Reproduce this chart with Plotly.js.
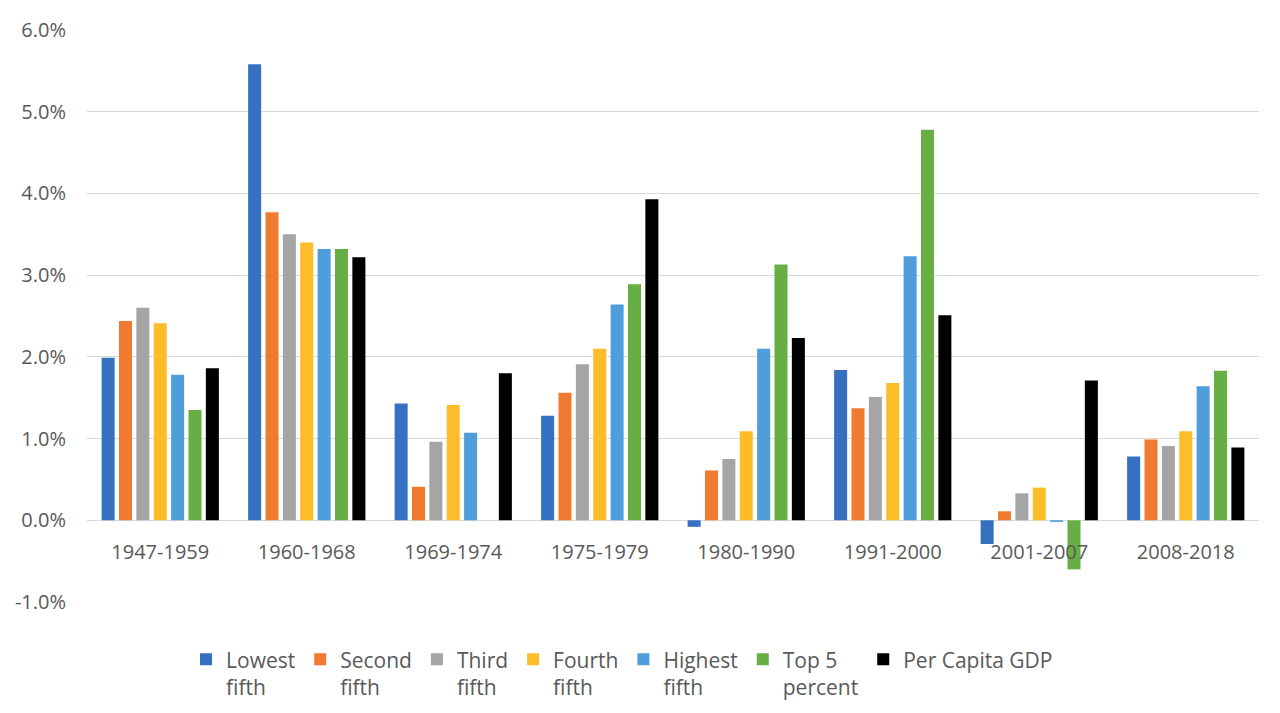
<!DOCTYPE html>
<html>
<head>
<meta charset="utf-8">
<script src="https://cdn.plot.ly/plotly-3.0.1.min.js"></script>
<style>html,body{margin:0;padding:0;background:#fff;}#chart{width:1280px;height:713px;}</style>
</head>
<body>
<div id="chart"></div>
<script>
var periods = ["1947-1959","1960-1968","1969-1974","1975-1979","1980-1990","1991-2000","2001-2007","2008-2018"];
var seriesNames = ["Lowest<br>fifth","Second<br>fifth","Third<br>fifth","Fourth<br>fifth","Highest<br>fifth","Top 5<br>percent","Per Capita GDP"];
var lowestFifth  = [1.99, 5.58, 1.43, 1.28, -0.08, 1.84, -0.29, 0.78];
var secondFifth  = [2.44, 3.77, 0.41, 1.56, 0.61, 1.37, 0.11, 0.99];
var thirdFifth   = [2.60, 3.50, 0.96, 1.91, 0.75, 1.51, 0.33, 0.91];
var fourthFifth  = [2.41, 3.40, 1.41, 2.10, 1.09, 1.68, 0.40, 1.09];
var highestFifth = [1.78, 3.32, 1.07, 2.64, 2.10, 3.23, -0.02, 1.64];
var top5Percent  = [1.35, 3.32, null, 2.89, 3.13, 4.78, -0.60, 1.83];
var perCapitaGDP = [1.86, 3.22, 1.80, 3.93, 2.23, 2.51, 1.71, 0.89];
var yTicks = [-1, 0, 1, 2, 3, 4, 5, 6];

var allSeries = [lowestFifth, secondFifth, thirdFifth, fourthFifth, highestFifth, top5Percent, perCapitaGDP];
var colors = ["#3571c0", "#f07a2f", "#a5a5a5", "#fdbd28", "#509ddc", "#67ae45", "#000000"];

var traces = allSeries.map(function(vals, i) {
  return {
    type: "bar",
    name: seriesNames[i],
    x: periods,
    y: vals,
    marker: {color: colors[i]},
    hoverinfo: "x+y"
  };
});

var layout = {
  width: 1280, height: 713,
  margin: {l: 87, r: 21, t: 30, b: 111, autoexpand: false},
  paper_bgcolor: "#ffffff",
  plot_bgcolor: "#ffffff",
  barmode: "group",
  bargap: 0.17,
  bargroupgap: 0.25,
  font: {family: "'Open Sans', Lato, sans-serif", color: "#595959", size: 20},
  xaxis: {
    type: "category",
    showgrid: false,
    zeroline: false,
    showline: false,
    ticks: "",
    tickfont: {size: 20, color: "#595959"},
    anchor: "free",
    position: 0.112,
    automargin: false
  },
  yaxis: {
    range: [-1, 6],
    tickvals: yTicks,
    ticktext: yTicks.map(function(v){ return v.toFixed(1) + "%"; }),
    showgrid: true,
    gridcolor: "#d9d9d9",
    gridwidth: 1,
    zeroline: true,
    zerolinecolor: "#d9d9d9",
    zerolinewidth: 1,
    showline: false,
    ticks: "",
    ticklen: 0,
    ticklabelstandoff: 20,
    tickfont: {size: 20, color: "#595959"},
    automargin: false
  },
  showlegend: true,
  legend: {
    orientation: "h",
    x: 0.0845, xanchor: "left",
    y: -0.065, yanchor: "top",
    valign: "top",
    font: {size: 21, color: "#595959"},
    traceorder: "normal"
  }
};

Plotly.newPlot("chart", traces, layout, {displayModeBar: false, staticPlot: true});
</script>
</body>
</html>
